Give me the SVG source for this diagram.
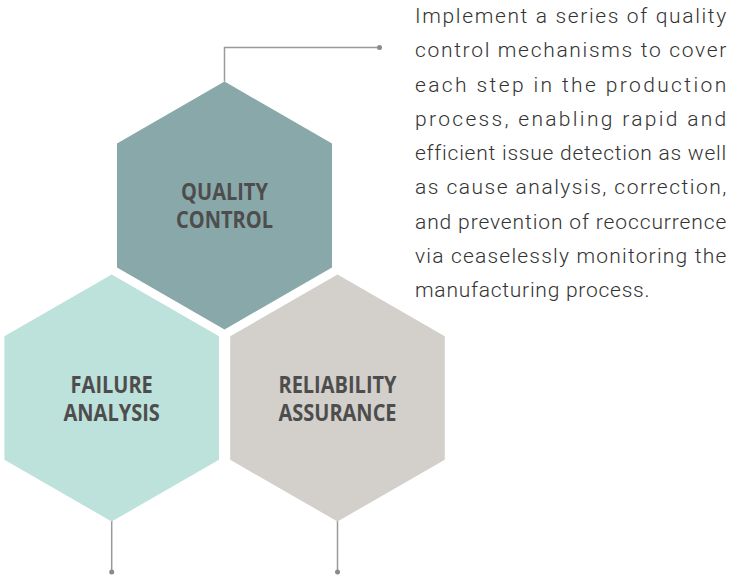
<svg xmlns="http://www.w3.org/2000/svg" width="731" height="578" viewBox="0 0 731 578">
  <style>
    .lbl { font-family: "Open Sans", "Liberation Sans", sans-serif; font-weight: 700; font-size: 20px; fill: #4d4d4d; text-anchor: middle; }
    .body { font-family: Roboto, "Liberation Sans", sans-serif; font-weight: 300; font-size: 21px; fill: #333333; letter-spacing: 0.75px; }
    .conn { fill: none; stroke: #9a9a9a; stroke-width: 1.5; }
    .dot { fill: #8a8a8a; }
  </style>
  <rect width="731" height="578" fill="#ffffff"/>
  <g id="connectors">
    <polyline class="conn" points="224.5,81.5 224.5,47.5 379.5,47.5"/>
    <circle class="dot" cx="379.5" cy="47.5" r="2.5"/>
    <line class="conn" x1="111.7" y1="521" x2="111.7" y2="572"/>
    <circle class="dot" cx="111.7" cy="572" r="2.5"/>
    <line class="conn" x1="337.5" y1="521" x2="337.5" y2="572"/>
    <circle class="dot" cx="337.5" cy="572" r="2.5"/>
  </g>
  <g id="quality-control">
    <polygon fill="#89a8a9" points="224.5,81.5 332,143.5 332,267.5 224.5,329.5 117,267.5 117,143.5"/>
    <text class="lbl" transform="translate(224.5,200) scale(1,1.15)">QUALITY</text>
    <text class="lbl" transform="translate(224.5,228) scale(1,1.15)">CONTROL</text>
  </g>
  <g id="failure-analysis">
    <polygon fill="#bde1db" points="111.7,274.5 219,336.3 219,459.8 111.7,521.5 4.4,459.8 4.4,336.3"/>
    <text class="lbl" transform="translate(111.7,392.5) scale(1,1.15)">FAILURE</text>
    <text class="lbl" transform="translate(111.7,420.5) scale(1,1.15)">ANALYSIS</text>
  </g>
  <g id="reliability-assurance">
    <polygon fill="#d3d0cc" points="337.5,274.5 444.8,336.3 444.8,459.8 337.5,521.5 230.2,459.8 230.2,336.3"/>
    <text class="lbl" transform="translate(337.5,392.5) scale(1,1.15)">RELIABILITY</text>
    <text class="lbl" transform="translate(337.5,420.5) scale(1,1.15)">ASSURANCE</text>
  </g>
  <g id="description">
    <text class="body" x="415" y="23" textLength="312" lengthAdjust="spacing">Implement a series of quality</text>
    <text class="body" x="415" y="57.25" textLength="312" lengthAdjust="spacing">control mechanisms to cover</text>
    <text class="body" x="415" y="91.5" textLength="312" lengthAdjust="spacing">each step in the production</text>
    <text class="body" x="415" y="125.75" textLength="312" lengthAdjust="spacing">process, enabling rapid and</text>
    <text class="body" x="415" y="160" textLength="312" lengthAdjust="spacing">efficient issue detection as well</text>
    <text class="body" x="415" y="194.25" textLength="312" lengthAdjust="spacing">as cause analysis, correction,</text>
    <text class="body" x="415" y="228.5" textLength="312" lengthAdjust="spacing">and prevention of reoccurrence</text>
    <text class="body" x="415" y="262.75" textLength="312" lengthAdjust="spacing">via ceaselessly monitoring the</text>
    <text class="body" x="415" y="297">manufacturing process.</text>
  </g>
</svg>
